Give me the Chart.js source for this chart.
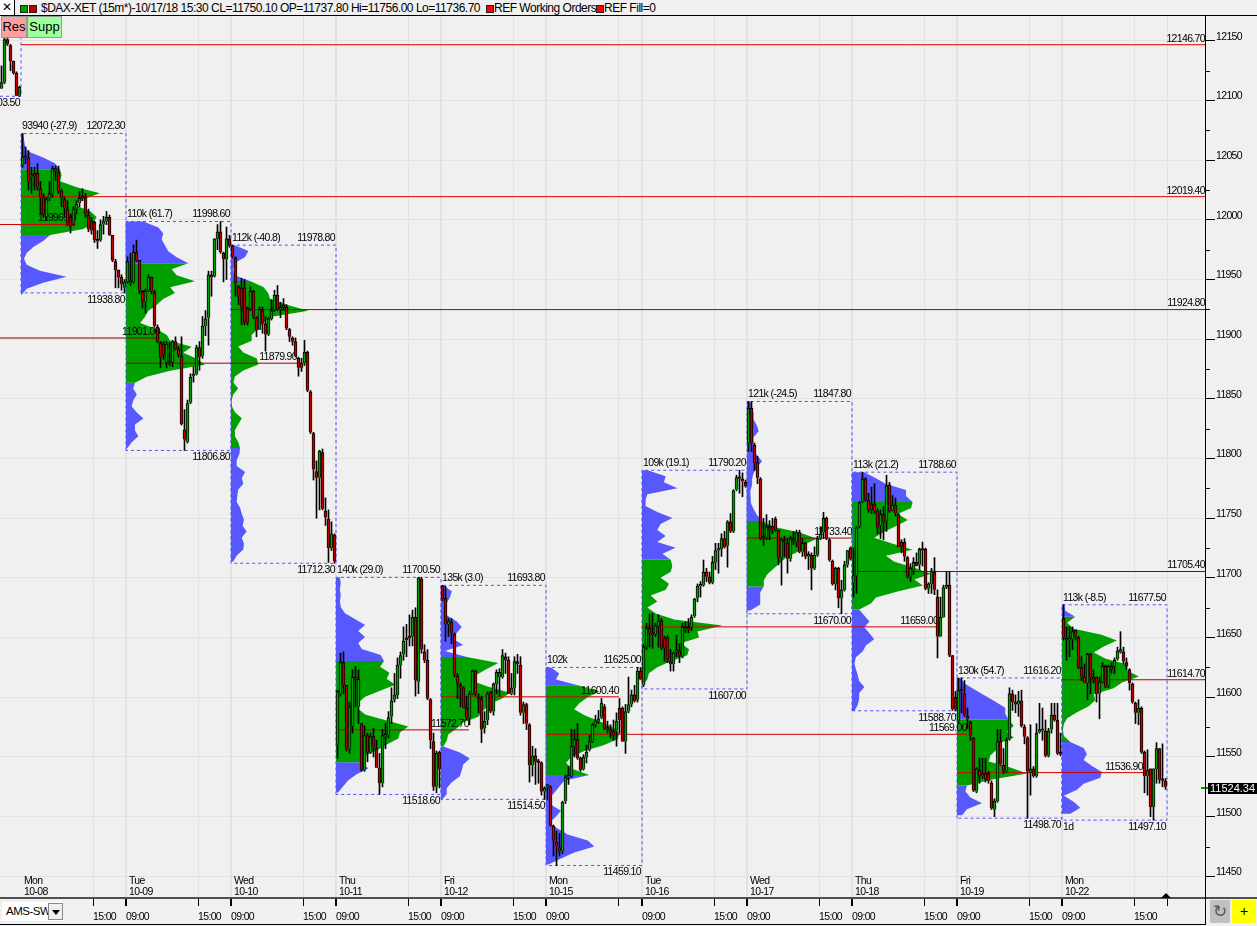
<!DOCTYPE html>
<html>
<head>
<meta charset="utf-8">
<title>$DAX-XET 15m</title>
<script src="https://cdn.jsdelivr.net/npm/chart.js@4"></script>
<style>
  html, body { margin: 0; padding: 0; background: #f0f0f0; overflow: hidden; }
  #page { position: relative; width: 1257px; height: 926px; font: 12px "Liberation Sans", sans-serif; color: #000; }
  #page canvas { position: absolute; left: 0; top: 0; }
  .abs { position: absolute; white-space: nowrap; }
  .tete { font-size: 12px; line-height: 15px; top: 1px; letter-spacing: -0.49px; }
  .sq { position: absolute; width: 6px; height: 6px; border: 1px solid #222; }
  .btn { position: absolute; border: 1px solid #999; box-sizing: border-box; font-size: 13px; line-height: 20px; text-align: center; }
</style>
</head>
<body>
<div id="page">
  <canvas id="graphe" width="1257" height="926"></canvas>
  <div class="abs" style="left:0;top:0;width:1257px;height:15px;background:#f0f0f0;border-bottom:1px solid #000;box-sizing:content-box"></div>
  <div class="abs" style="left:0;top:0;width:14px;height:15px;background:#fff;border-right:1px solid #000;text-align:center;line-height:15px;font-size:12px">✕</div>
  <div class="sq" style="left:20px;top:5px;background:#00a000"></div>
  <div class="sq" style="left:29px;top:5px;background:#c00000"></div>
  <div class="abs tete" style="left:41px">$DAX-XET (15m*)-10/17/18 15:30 CL=11750.10 OP=11737.80 Hi=11756.00 Lo=11736.70</div>
  <div class="sq" style="left:486px;top:5px;background:#f00"></div>
  <div class="abs tete" style="left:494px">REF Working Orders</div>
  <div class="sq" style="left:596px;top:5px;background:#f00"></div>
  <div class="abs tete" style="left:604px">REF Fill=0</div>
  <div class="btn" style="left:1px;top:16px;width:26px;height:22px;background:#ff9e9e">Res</div>
  <div class="btn" style="left:27px;top:16px;width:35px;height:22px;background:#9eff9e">Supp</div>

  <div class="abs" style="left:0;top:897px;width:1257px;height:2px;background:#505050"></div>
  <div class="abs" style="left:0;top:924px;width:1206px;height:1px;background:#000"></div>
  <div class="abs" style="left:1205px;top:15px;width:1px;height:910px;background:#000"></div>
  <div class="abs" style="left:2px;top:902px;width:61px;height:19px;background:#fff;line-height:19px;text-indent:4px;font-size:11.5px;letter-spacing:-0.5px">AMS-SW
    <div style="position:absolute;left:46px;top:1px;width:15px;height:17px;background:#f0f0f0;border:1px solid #888;box-sizing:border-box"></div>
    <div style="position:absolute;left:50px;top:8px;border:4px solid transparent;border-top:5px solid #000"></div>
  </div>
  <div class="abs" style="left:1161px;top:893px;border:5px solid transparent;border-top:0;border-bottom:5px solid #000"></div>
  <div class="abs" style="left:1210px;top:900px;width:20px;height:23px;background:#c0c0c0;border-radius:2px;text-align:center;line-height:23px;font-size:17px;color:#555;font-family:'DejaVu Sans'">↻</div>
  <div class="abs" style="left:1232px;top:900px;width:24px;height:23px;background:#ffff00;text-align:center;line-height:22px;font-size:14px">+</div>
</div>

<script>
// Axes
const prixMin = 11432.7;
const prixMax = 12171.6;
const prixTicks = [11450, 11500, 11550, 11600, 11650, 11700, 11750, 11800, 11850, 11900, 11950, 12000, 12050, 12100, 12150];
const prixTicksMineurs = [11475, 11525, 11575, 11625, 11675, 11725, 11775, 11825, 11875, 11925, 11975, 12025, 12075, 12125];
const tempsTicks = [31, 42, 66, 77, 101, 112, 136, 147, 171, 182, 206, 214, 238, 249, 273, 284, 308, 319, 343, 354, 378, 389];
const tempsLabels = ["15:00", "09:00", "15:00", "09:00", "15:00", "09:00", "15:00", "09:00", "15:00", "09:00", "", "09:00", "15:00", "09:00", "15:00", "09:00", "15:00", "09:00", "15:00", "09:00", "15:00", ""];
const dernierPrix = 11524.34;

// Sessions
const jourDebut = [7, 42, 77, 112, 147, 182, 214, 249, 284, 319, 354];
const jourFin = [42, 77, 112, 147, 182, 214, 249, 284, 319, 354, 389];
const jourNoms = ["Mon", "Tue", "Wed", "Thu", "Fri", "Mon", "Tue", "Wed", "Thu", "Fri", "Mon"];
const jourDates = ["10-08", "10-09", "10-10", "10-11", "10-12", "10-15", "10-16", "10-17", "10-18", "10-19", "10-22"];
const jourHauts = [12072.3, 11998.6, 11978.8, 11700.5, 11693.8, 11625.0, 11790.2, 11847.8, 11788.6, 11616.2, 11677.5];
const jourBas = [11938.8, 11806.8, 11712.3, 11518.6, 11514.5, 11459.1, 11607.0, 11670.0, 11588.7, 11498.7, 11497.1];
const jourVolumes = ["93940 (-27.9)", "110k (61.7)", "112k (-40.8)", "140k (29.0)", "135k (3.0)", "102k", "109k (19.1)", "121k (-24.5)", "113k (21.2)", "130k (54.7)", "113k (-8.5)"];
const vaHauts = [12045, 11966.3, 11950.5, 11632.2, 11638.3, 11611.2, 11717.8, 11749.4, 11763.9, 11586, 11667.6];
const vaBas = [11989.7, 11867.2, 11808.8, 11548, 11559.3, 11537, 11600, 11697.4, 11676.5, 11528.6, 11567];

// Bougies [ouverture, haut, bas, cloture]
const bougiesAvant = [[12110,12129,12110,12115],[12115,12152,12114,12151],[12151,12152,12146,12147],[12146,12147,12125,12133],[12133,12133,12122,12123],[12123,12124,12104,12104],[12104,12112,12103.5,12111]];
const bougies1008 = [[12046,12072.3,12044,12053],[12053,12061,12047,12052],[12052,12058,12025,12032],[12036,12044,12022,12038],[12038,12044,12025,12037],[12039,12047,12025,12027],[12026,12032,12005,12019],[12019,12022,12002,12004],[12003,12019,12000,12017],[12018,12032,12016,12022],[12022,12045,12019,12043],[12043,12045,12033,12041],[12040,12045,12022,12024],[12024,12026,12011,12018],[12017,12019,12002,12010],[12009,12016,11995,11997],[12002,12005,11989,11995],[11997,12011,11995,12009],[12009,12016,12005,12013],[12014,12024,12011,12018],[12019,12026,12016,12018],[12019,12022,12002,12005],[12004,12009,11990,11992],[11999,12002,11988,11991],[11998,11999,11981,11983],[11983,11991,11976,11982],[11983,12000,11982,11996],[11996,12003,11988,11999],[11999,12007,11996,12002],[12002,12004,11987,11987],[11987,11987,11965,11966],[11965,11967,11943,11958],[11958,11958,11943,11952],[11952,11954,11941,11946],[11943,11950,11938.8,11948]];
const bougies1009 = [[11948,11969,11947,11965],[11947,11972,11945,11948],[11948,11979,11947,11973],[11973,11983,11965,11966],[11966,11966,11938,11941],[11940,11941,11926,11931],[11931,11942,11922,11940],[11941,11954,11940,11952],[11952,11952,11938,11940],[11939,11941,11910,11911],[11910,11912,11897,11898],[11897,11898,11876,11885],[11896,11898,11883,11887],[11881,11898,11876,11896],[11881,11897,11878,11880],[11881,11899,11877,11898],[11898,11902,11891,11892],[11892,11894,11885,11887],[11886,11902,11828,11829],[11824,11841,11806.8,11816],[11814,11849,11813,11846],[11847,11871,11846,11868],[11869,11877,11864,11870],[11871,11895,11870,11893],[11893,11898,11874,11885],[11886,11919,11884,11911],[11911,11924,11903,11917],[11918,11957,11895,11954],[11953,11957,11936,11952],[11953,11984,11952,11984],[11984,11996,11975,11990],[11990,11998.6,11972,11973],[11972,11973,11948,11967],[11967,11994,11950,11984],[11984,11987,11977,11978]];
const bougies1010 = [[11978,11978.8,11968,11969],[11968,11969,11936,11947],[11944,11945,11929,11937],[11943,11951,11912,11926],[11943,11950,11912,11914],[11926,11927,11912,11914],[11926,11944,11924,11940],[11940,11941,11917,11919],[11918,11919,11902,11908],[11908,11927,11908,11925],[11924,11927,11905,11913],[11913,11919,11890,11904],[11904,11918,11903,11917],[11917,11933,11916,11924],[11925,11941,11923,11937],[11937,11945,11924,11925],[11925,11931,11918,11926],[11928,11934,11924,11927],[11927,11929,11908,11909],[11908,11909,11898,11902],[11901,11902,11895,11898],[11898,11901,11885,11886],[11884,11885,11869,11876],[11880,11884,11873,11876],[11880,11899,11878,11889],[11889,11890,11856,11857],[11856,11857,11821,11822],[11821,11822,11782,11791],[11789,11798,11750,11784],[11784,11807,11757,11806],[11805,11808,11757,11758],[11756,11767,11744,11751],[11749,11757,11713,11725],[11725,11747,11723,11737],[11736,11737,11712.3,11714]];
const bougies1011 = [[11560,11606,11549,11605],[11603,11637,11601,11629],[11629,11638,11603,11610],[11610,11610,11555,11557],[11557,11596,11553,11592],[11576,11623,11570,11617],[11617,11626,11592,11615],[11592,11623,11578,11615],[11578,11578,11538,11539],[11539,11576,11538,11568],[11568,11570,11546,11554],[11554,11570,11553,11567],[11567,11574,11550,11558],[11557,11564,11541,11541],[11541,11553,11519,11528],[11528,11573,11525,11568],[11567,11578,11557,11569],[11568,11588,11566,11583],[11584,11608,11578,11597],[11598,11620,11596,11602],[11602,11633,11599,11627],[11627,11638,11616,11635],[11636,11659,11631,11647],[11649,11661,11634,11648],[11649,11669,11643,11651],[11651,11673,11643,11667],[11667,11675,11601,11614],[11613,11700.5,11603,11700],[11699,11700.5,11637,11640],[11638,11644,11629,11631],[11631,11640,11598,11599],[11598,11599,11557,11564],[11563,11570,11522,11525],[11525,11555,11520,11553],[11554,11555,11524,11540]];
const bougies1012 = [[11693,11693.8,11681,11682],[11683,11693,11647,11661],[11661,11666,11651,11664],[11663,11666,11645,11654],[11653,11654,11617,11619],[11618,11620,11599,11612],[11610,11612,11592,11608],[11608,11609,11591,11591],[11591,11601,11582,11583],[11583,11605,11577,11603],[11603,11623,11602,11622],[11622,11623,11601,11603],[11599,11603,11587,11598],[11599,11601,11562,11573],[11574,11588,11570,11580],[11581,11605,11577,11603],[11604,11605,11587,11588],[11588,11612,11585,11611],[11611,11623,11603,11621],[11617,11624,11601,11621],[11617,11640,11616,11635],[11634,11637,11620,11631],[11631,11634,11603,11603],[11603,11620,11602,11608],[11608,11634,11602,11630],[11630,11636,11620,11628],[11627,11634,11585,11587],[11587,11596,11578,11594],[11594,11595,11573,11578],[11577,11578,11529,11543],[11543,11559,11534,11551],[11551,11557,11527,11546],[11546,11548,11528,11545],[11545,11546,11518,11521],[11521,11525,11514.5,11524]];
const bougies1015 = [[11525,11527,11514,11526],[11525,11526,11492,11493],[11492,11493,11467,11480],[11479,11488,11459.1,11475],[11474,11486,11467,11471],[11471,11513,11469,11512],[11513,11535,11511,11533],[11533,11542,11527,11534],[11534,11573,11533,11559],[11559,11573,11550,11565],[11565,11578,11548,11549],[11549,11550,11538,11539],[11540,11552,11539,11550],[11550,11560,11545,11554],[11556,11568,11555,11563],[11563,11578,11562,11577],[11577,11585,11575,11580],[11580,11589,11578,11582],[11583,11599,11582,11595],[11592,11594,11573,11574],[11574,11580,11570,11573],[11573,11577,11566,11571],[11572,11581,11564,11568],[11572,11587,11559,11580],[11591,11599,11570,11581],[11591,11592,11563,11563],[11563,11594,11553,11588],[11588,11617,11587,11594],[11594,11606,11592,11602],[11602,11610,11596,11597],[11598,11625,11596,11622],[11622,11625,11615,11615]];
const bougies1016 = [[11610,11644,11609,11642],[11642,11662,11640,11658],[11658,11670,11642,11654],[11654,11670,11641,11652],[11653,11662,11651,11660],[11660,11669,11642,11664],[11664,11666,11640,11641],[11650,11651,11630,11641],[11650,11652,11629,11631],[11630,11640,11622,11628],[11628,11638,11622,11637],[11638,11652,11634,11639],[11639,11645,11629,11635],[11634,11662,11633,11659],[11657,11663,11654,11658],[11658,11666,11654,11657],[11659,11669,11656,11667],[11668,11683,11667,11682],[11683,11695,11680,11693],[11693,11697,11684,11694],[11694,11715,11693,11705],[11705,11708,11697,11701],[11701,11705,11695,11696],[11696,11718,11695,11713],[11713,11729,11707,11723],[11723,11729,11704,11724],[11724,11737,11718,11733],[11733,11739,11725,11726],[11727,11748,11709,11747],[11747,11754,11738,11739],[11739,11774,11738,11773],[11774,11786,11773,11784],[11784,11790.2,11771,11783],[11783,11788,11768,11781],[11780,11782,11776,11777]];
const bougies1017 = [[11813,11847.8,11806,11842],[11842,11847.8,11806,11813],[11811,11813,11790,11796],[11797,11802,11779,11784],[11783,11784,11732,11733],[11734,11750,11727,11733],[11734,11753,11732,11743],[11743,11748,11732,11740],[11743,11750,11737,11741],[11749,11751,11739,11740],[11740,11740,11711,11717],[11717,11733,11694,11732],[11732,11735,11718,11730],[11729,11733,11704,11716],[11716,11735,11714,11733],[11733,11739,11728,11730],[11730,11740,11726,11738],[11738,11740,11721,11722],[11722,11733,11718,11729],[11729,11730,11716,11718],[11718,11722,11707,11719],[11719,11721,11690,11708],[11708,11726,11707,11719],[11719,11735,11718,11733],[11733,11743,11732,11737],[11738,11755,11733,11750],[11750,11751,11732,11733],[11732,11733,11714,11715],[11714,11715,11694,11695],[11695,11709,11690,11708],[11708,11709,11675,11683],[11683,11698,11670,11690],[11690,11714,11689,11711],[11711,11723,11709,11723],[11725,11726,11715,11716]];
const bougies1018 = [[11696,11725,11684,11702],[11702,11743,11687,11742],[11743,11764,11742,11763],[11764,11788.6,11763,11783],[11783,11784,11764,11765],[11765,11771,11755,11757],[11762,11776,11754,11757],[11762,11779,11754,11756],[11756,11758,11737,11743],[11744,11757,11733,11753],[11753,11760,11732,11747],[11748,11786,11739,11777],[11778,11780,11755,11756],[11757,11769,11756,11761],[11761,11767,11752,11754],[11753,11754,11726,11726],[11730,11732,11721,11726],[11730,11733,11714,11718],[11717,11718,11700,11701],[11701,11712,11697,11708],[11707,11717,11703,11713],[11713,11721,11710,11710],[11711,11725,11707,11724],[11724,11730,11710,11723],[11724,11725,11690,11691],[11691,11696,11687,11695],[11695,11708,11687,11706],[11705,11717,11686,11690],[11684,11690,11633,11651],[11651,11684,11651,11667],[11667,11694,11667,11692],[11692,11705,11691,11694],[11694,11705,11634,11635],[11635,11635,11589,11590],[11600,11605,11588.7,11590]];
const bougies1019 = [[11580,11616.2,11578,11606],[11606,11616.2,11587,11605],[11603,11614,11584,11585],[11584,11591,11574,11582],[11579,11580,11564,11568],[11566,11566,11521,11522],[11521,11541,11520,11540],[11539,11549,11528,11534],[11534,11549,11532,11535],[11536,11549,11529,11531],[11536,11538,11528,11530],[11528,11530,11506,11507],[11506,11515,11500,11513],[11513,11573,11512,11563],[11563,11573,11543,11544],[11543,11557,11536,11538],[11538,11566,11537,11564],[11565,11608,11564,11603],[11603,11606,11589,11596],[11596,11602,11587,11594],[11594,11605,11584,11597],[11597,11606,11575,11576],[11575,11577,11561,11567],[11566,11567,11498.7,11538],[11537,11577,11518,11540],[11540,11542,11533,11534],[11534,11578,11533,11570],[11571,11595,11570,11573],[11572,11591,11564,11573],[11572,11581,11550,11551],[11551,11574,11550,11572],[11573,11595,11570,11585],[11585,11595,11580,11581],[11581,11595,11552,11553],[11554,11570,11551,11552]];
const bougies1022 = [[11666,11677.5,11648,11650],[11649,11659,11631,11648],[11648,11659,11634,11649],[11649,11659,11640,11655],[11656,11656,11648,11651],[11650,11651,11624,11625],[11625,11634,11614,11617],[11617,11628,11612,11612],[11612,11637,11598,11636],[11636,11637,11603,11617],[11617,11623,11612,11615],[11617,11617,11596,11603],[11603,11617,11582,11613],[11613,11629,11612,11626],[11626,11627,11608,11609],[11610,11627,11608,11626],[11626,11629,11620,11623],[11626,11633,11620,11631],[11632,11642,11631,11639],[11638,11655,11637,11640],[11638,11642,11628,11630],[11629,11633,11623,11626],[11623,11624,11606,11612],[11611,11612,11595,11596],[11595,11596,11578,11587],[11587,11598,11577,11591],[11591,11592,11553,11554],[11554,11555,11520,11534],[11534,11556,11518,11539],[11540,11540,11500,11508],[11508,11540,11497.1,11540],[11540,11562,11528,11557],[11557,11557,11528,11531],[11531,11561,11525,11530],[11530,11532,11523,11525]];
const bougiesJours = [bougies1008, bougies1009, bougies1010, bougies1011, bougies1012, bougies1015, bougies1016, bougies1017, bougies1018, bougies1019, bougies1022];

// Profils de volume : largeur par tranche de 5 points, du haut vers le bas
const tranchePrix = 5;
const profil1008 = [0.8,1,1.3,2.4,7.4,11.3,13,13.5,13,18.6,26.3,20.8,18,23,25.2,24,20.8,9.7,7.4,4.1,1.9,1,1.9,6.3,15.2,7.4,1.9,0.2];
const profil1009 = [5.8,10.8,12.4,11.9,13,14.1,16.9,20.8,15.2,16.9,23,14.7,16.3,12.4,10.2,7.4,6.3,4.7,10.2,13.6,14.7,21.9,19.1,23.6,26.3,14.7,6.9,3,2.4,3.6,2.4,1.9,3.6,5.8,3,3,4.1,1.9,0.4];
const profil1010 = [1.3,5.8,4.7,1.3,0.8,1,6.3,10.8,12.4,13,18.6,25.8,13.6,10.8,9.1,6.9,6.9,2.4,4.1,8.6,9.1,4.1,1.3,0.8,2.4,0.8,0.2,0.3,1.3,3.6,2.4,1.3,1.3,2.4,3,2.8,1.9,1.9,4.7,3.6,4.1,2.4,2.1,1.9,3,3.6,4.3,3.9,5.2,3.6,4.3,4.1,1.9,0.8];
const profil1011 = [1.3,1.6,1.3,1.6,1.3,1.6,3,6.3,9.7,7.4,9.7,7.4,8.6,14.9,16,14.7,17.8,16.9,19.7,14.7,9.7,7.4,7.4,9.7,16.9,24.1,21.3,20.8,16.9,13.6,9.1,8,10.8,6.9,4.1,2.4,0.8];
const profil1012 = [0.8,3.6,3,1.9,1.3,1.9,5.2,6.9,5.2,4.1,7.4,1.3,8.6,19.1,15.2,11.9,10.2,15.8,23,20.2,15.8,14.1,12.4,7.4,5.2,2.4,1.9,0.8,6.3,9.6,7.4,6.9,6.3,3.6,1.9,1.9,0.2];
const profil1015 = [1.7,4.4,3.3,10.6,17.8,13.9,11.1,9.4,12.8,17.8,22.2,24.4,23.9,19.4,12.8,8.3,6.7,8.9,14.4,6.1,4.4,2.8,0.8,1.7,5,3.3,1.1,3.9,7.2,13.9,16.1,9.4,5,0.8];
const profil1016 = [1.8,7.9,7.3,11.8,1.8,1.2,1.2,5.1,10.1,6.2,5.1,7.9,5.1,11.2,6.8,9.6,10.1,9.6,6.2,9,7.9,2.9,5.1,1.8,4.6,10.7,26.8,18.5,19,12.9,15.7,15.1,9.6,5.1,2.3,1.8,0.4];
const profil1017 = [1.1,1.7,2.2,2.2,3.3,3.9,2.2,2.2,2.2,3.3,5,3.3,2.2,1.7,1.7,1.1,1.3,1.3,2.2,3.3,5,8.9,17.8,23.3,18.9,17.8,13.3,11.1,8.9,6.7,5.6,5.6,4.4,4.4,4.4,1.1];
const profil1018 = [4.1,8,11.3,18,18,20.2,19.7,15.2,18.6,14.7,10.8,7.4,13.6,20.2,11.3,14.1,20.8,26.3,20.8,23.6,15.2,8,6.3,2.4,4.1,5.8,4.1,5.8,7.4,4.7,3.6,1.3,0.8,1.3,1.9,2.4,4.1,2.4,2.4,1.9,0.8];
const profil1019 = [1.1,2.8,6.1,9.4,12.8,16.1,16.1,17.2,18.9,16.7,18.9,13.9,13.3,11.1,10.6,17.8,23.3,11.7,3.3,2.8,4.4,8.3,3.3,1.7];
const profil1022 = [0.8,1.1,4.4,1.7,3.9,13.2,18.3,13.9,10.6,14.4,21.7,21.7,25.6,20,17.2,10.6,11.1,8.9,5,1.7,0.6,0.3,0.6,2.8,7.2,8.3,7.2,10,13.3,12.8,7.2,5,0.6,3.9,6.1,2.8];
const profilsJours = [profil1008, profil1009, profil1010, profil1011, profil1012, profil1015, profil1016, profil1017, profil1018, profil1019, profil1022];

// Niveaux horizontaux
const niveauxPrix = [12146.7, 12019.4, 11996.1, 11924.8, 11901.0, 11879.9, 11733.4, 11705.4, 11659.0, 11600.4, 11572.7, 11569.0, 11536.9, 11614.7];
const niveauxDebut = [7, 7, 0, 77, 0, 42, 249, 284, 214, 147, 112, 182, 319, 354];
const niveauxFin = [402, 402, 25.3, 402, 53.3, 99, 284, 402, 312.7, 206.3, 156.3, 322.3, 381, 402];
const niveauxCouleurs = ["#e00000", "#e00000", "#d00000", "#a00000", "#800000", "#a00000", "#a00000", "#900000", "#d00000", "#d00000", "#b00000", "#d00000", "#d00000", "#b00000"];

const policeTexte = "10.5px 'Liberation Sans', sans-serif";
const serrageTexte = "-0.65px";

function donneesBougies() {
  const corps = [];
  const meches = [];
  const couleurs = [];
  const ajouter = (liste, debut) => {
    liste.forEach((b, i) => {
      const x = debut + i + 0.5;
      corps.push({ x, y: [b[0], b[3]] });
      meches.push({ x, y: [b[2], b[1]] });
      couleurs.push(b[3] >= b[0] ? "#00a000" : "#c00000");
    });
  };
  ajouter(bougiesAvant, 0);
  bougiesJours.forEach((liste, j) => ajouter(liste, jourDebut[j]));
  return { corps, meches, couleurs };
}

function polygoneProfil(j, a, b) {
  const pts = [];
  const haut = jourHauts[j];
  const profil = profilsJours[j];
  pts.push({ x: jourDebut[j], y: haut - a * tranchePrix });
  for (let i = a; i <= b && i < profil.length; i++) {
    pts.push({ x: jourDebut[j] + profil[i], y: haut - i * tranchePrix });
  }
  pts.push({ x: jourDebut[j], y: haut - Math.min(b, profil.length - 1) * tranchePrix });
  pts.push(pts[0]);
  return pts;
}

function datasetsProfils() {
  const sets = [];
  const ajouter = (data, couleur) => sets.push({
    type: "line", data, order: 5, fill: "shape", backgroundColor: couleur, borderColor: couleur,
    borderWidth: 0, pointRadius: 0, tension: 0,
  });
  profilsJours.forEach((profil, j) => {
    const a = Math.ceil((jourHauts[j] - vaHauts[j]) / tranchePrix);
    const b = Math.min(Math.ceil((jourHauts[j] - vaBas[j]) / tranchePrix), profil.length - 1);
    ajouter(polygoneProfil(j, 0, a), "#5858ff");
    ajouter(polygoneProfil(j, a, b), "#00a000");
    if (b < profil.length - 1) ajouter(polygoneProfil(j, b, profil.length - 1), "#5858ff");
  });
  return sets;
}

function datasetsCadres() {
  const cadre = (data) => ({
    type: "line", data, order: 4, borderColor: "#5050ff", borderWidth: 1, borderDash: [3, 3], pointRadius: 0, tension: 0,
  });
  const sets = jourDebut.map((d, j) => cadre([
    { x: d, y: jourBas[j] }, { x: d, y: jourHauts[j] }, { x: jourFin[j], y: jourHauts[j] },
    { x: jourFin[j], y: jourBas[j] }, { x: d, y: jourBas[j] },
  ]));
  sets.push(cadre([{ x: 0, y: 12103.5 }, { x: 7, y: 12103.5 }, { x: 7, y: prixMax }]));
  return sets;
}

function datasetsNiveaux() {
  return niveauxPrix.map((p, i) => ({
    type: "line",
    data: [{ x: niveauxDebut[i], y: p }, { x: niveauxFin[i], y: p }],
    order: 3, borderColor: niveauxCouleurs[i], borderWidth: 1, pointRadius: 0,
  }));
}

const pluginTextes = {
  id: "textes",
  beforeDraw(chart) {
    chart.ctx.letterSpacing = serrageTexte;
  },
  beforeDatasetDraw(chart, args) {
    if (chart.data.datasets[args.index].label !== "meches") return;
    const { ctx, scales: { x, y } } = chart;
    const ecrire = (s, px, py, align) => {
      ctx.textAlign = align;
      ctx.fillText(s, px, py);
    };
    ctx.save();
    ctx.font = policeTexte;
    ctx.fillStyle = "#000";
    ctx.textBaseline = "middle";
    jourDebut.forEach((d, j) => {
      const gauche = x.getPixelForValue(d);
      const droite = x.getPixelForValue(jourFin[j]);
      ecrire(jourVolumes[j], gauche + 1, y.getPixelForValue(jourHauts[j]) - 7, "left");
      ecrire(jourHauts[j].toFixed(2), droite - 1, y.getPixelForValue(jourHauts[j]) - 7, "right");
      ecrire(jourBas[j].toFixed(2), droite - 1, y.getPixelForValue(jourBas[j]) + 7, "right");
      ecrire(jourNoms[j], gauche + 3, chart.chartArea.bottom - 16, "left");
      ecrire(jourDates[j], gauche + 3, chart.chartArea.bottom - 5, "left");
    });
    ecrire("12103.50", x.getPixelForValue(7) - 1, y.getPixelForValue(12103.5) + 7, "right");
    ecrire("1d", x.getPixelForValue(354) + 1, y.getPixelForValue(11497.1) + 7, "left");
    niveauxPrix.forEach((p, i) => {
      ecrire(p.toFixed(2), x.getPixelForValue(niveauxFin[i]) - (niveauxFin[i] === 402 ? 1 : 0), y.getPixelForValue(p) - 6, "right");
    });
    ctx.restore();
  },
  afterDraw(chart) {
    const { ctx, scales: { y }, chartArea } = chart;
    ctx.save();
    ctx.strokeStyle = "#000";
    ctx.beginPath();
    prixTicksMineurs.forEach((v) => {
      const py = Math.round(y.getPixelForValue(v)) + 0.5;
      ctx.moveTo(chartArea.right, py);
      ctx.lineTo(chartArea.right + 4, py);
    });
    ctx.stroke();
    const py = y.getPixelForValue(dernierPrix);
    ctx.fillStyle = "#00a000";
    ctx.fillRect(chartArea.right - 5, Math.round(py) - 1, 7, 2);
    ctx.fillStyle = "#000";
    ctx.fillRect(chartArea.right + 2, Math.round(py) - 5, 49, 11);
    ctx.fillStyle = "#fff";
    ctx.font = "11px 'Liberation Sans', sans-serif";
    ctx.letterSpacing = "0px";
    ctx.textAlign = "left";
    ctx.textBaseline = "middle";
    ctx.fillText(dernierPrix.toFixed(2), chartArea.right + 4, Math.round(py) + 1);
    ctx.restore();
  },
};

function charger() {
  const { corps, meches, couleurs } = donneesBougies();
  new Chart(document.getElementById("graphe"), {
    type: "bar",
    data: {
      datasets: [
        { label: "corps", data: corps, order: 1, grouped: false, barThickness: 3, minBarLength: 2, backgroundColor: couleurs, borderColor: "#000", borderWidth: 1 },
        { label: "meches", data: meches, order: 2, grouped: false, barThickness: 1, backgroundColor: "#000" },
        ...datasetsNiveaux(),
        ...datasetsCadres(),
        ...datasetsProfils(),
      ],
    },
    options: {
      responsive: false,
      animation: false,
      layout: { padding: { top: 15, left: 0, right: 0, bottom: 0 } },
      plugins: { legend: { display: false }, tooltip: { enabled: false } },
      scales: {
        x: {
          type: "linear",
          offset: false,
          min: 0,
          max: 402,
          afterFit: (s) => { s.height = 29; },
          afterBuildTicks: (s) => { s.ticks = tempsTicks.map((v) => ({ value: v })); },
          grid: {
            offset: false,
            color: "#e2e2e2",
            lineWidth: (c) => (jourDebut.includes(c.tick && c.tick.value) ? 2 : 1),
            tickColor: "#000",
            tickLength: 9,
          },
          border: { display: false },
          ticks: {
            autoSkip: false,
            maxRotation: 0,
            align: "start",
            padding: 5,
            color: "#000",
            font: { family: "'Liberation Sans', sans-serif", size: 10.5 },
            callback: (v) => tempsLabels[tempsTicks.indexOf(v)],
          },
        },
        y: {
          position: "right",
          min: prixMin,
          max: prixMax,
          afterFit: (s) => { s.width = 51; },
          afterBuildTicks: (s) => { s.ticks = prixTicks.map((v) => ({ value: v })); },
          grid: { color: "#e2e2e2", tickColor: "#000", tickLength: 9 },
          border: { display: false },
          ticks: {
            autoSkip: false,
            padding: 1,
            color: "#000",
            font: { family: "'Liberation Sans', sans-serif", size: 10.5, lineHeight: 0.76 },
            callback: (v) => [String(v), ""],
          },
        },
      },
    },
    plugins: [pluginTextes],
  });
}

charger();
</script>
</body>
</html>
